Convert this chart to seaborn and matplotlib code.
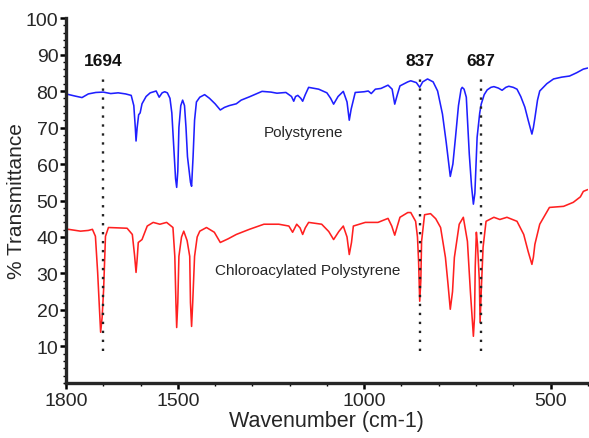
import matplotlib
matplotlib.use("Agg")
import matplotlib.pyplot as plt
from matplotlib.ticker import MultipleLocator
import pandas as pd
import seaborn as sns

# Polystyrene spectrum (wavenumber, % transmittance)
ps_wn = [1800, 1775, 1757, 1740, 1720, 1700, 1680, 1660, 1640, 1625, 1618, 1614,
         1612, 1609, 1605, 1601, 1596, 1585, 1574, 1558, 1550, 1542, 1535, 1528,
         1521, 1516, 1511, 1506, 1503, 1500, 1497, 1492, 1487, 1482, 1478, 1474,
         1466, 1463, 1459, 1455, 1450, 1441, 1428, 1415, 1400, 1386, 1375, 1362,
         1343, 1330, 1308, 1290, 1274, 1250, 1234, 1210, 1195, 1189, 1184, 1178,
         1170, 1165, 1158, 1149, 1122, 1100, 1090, 1082, 1070, 1056, 1046, 1040,
         1035, 1024, 1000, 989, 981, 970, 955, 936, 925, 918, 911, 904, 883, 875,
         860, 851, 843, 830, 815, 803, 790, 780, 769, 762, 755, 747, 740, 737,
         732, 726, 718, 712, 707, 703, 697, 690, 686, 678, 670, 660, 652, 640,
         630, 620, 612, 600, 590, 580, 569, 560, 550, 546, 542, 535, 529, 510,
         492, 470, 449, 430, 412, 400]
ps_t = [79.2, 78.6, 78.2, 79.2, 79.6, 79.7, 79.3, 79.5, 79.2, 78.8, 76.0, 70.0,
        66.3, 70.0, 73.5, 74.0, 76.5, 78.5, 79.5, 80.0, 78.3, 79.5, 79.8, 79.5,
        78.0, 74.0, 65.0, 56.0, 53.6, 58.0, 70.0, 76.0, 77.5, 76.0, 70.0, 62.0,
        55.0, 53.9, 62.0, 72.0, 77.0, 78.3, 79.0, 78.0, 76.5, 74.8, 75.5, 76.0,
        76.5, 77.5, 78.4, 79.2, 79.9, 79.7, 79.4, 79.6, 78.5, 77.2, 78.5, 78.8,
        78.0, 77.2, 79.0, 81.0, 80.5, 79.5, 78.0, 76.4, 78.5, 79.9, 77.0, 72.0,
        75.0, 79.6, 79.8, 80.0, 79.3, 80.5, 80.7, 81.6, 80.5, 76.4, 79.0, 81.4,
        82.5, 82.8, 82.3, 81.0, 82.5, 83.3, 82.5, 80.0, 73.7, 66.0, 56.6, 60.0,
        67.3, 76.0, 80.5, 81.0, 80.5, 78.3, 62.7, 54.0, 49.0, 52.0, 67.3, 74.0,
        76.4, 79.0, 80.3, 81.0, 81.2, 80.8, 80.2, 81.0, 81.3, 81.0, 80.5, 78.5,
        75.6, 72.0, 68.2, 70.0, 72.6, 77.5, 80.0, 82.0, 83.3, 83.8, 84.1, 85.0,
        86.0, 86.3]

# Chloroacylated polystyrene spectrum
cps_wn = [1800, 1793, 1761, 1740, 1729, 1721, 1715, 1710, 1707, 1703, 1699, 1694,
          1686, 1660, 1636, 1622, 1616, 1612, 1609, 1606, 1596, 1582, 1566, 1548,
          1530, 1513, 1508, 1505, 1503, 1500, 1497, 1490, 1484, 1475, 1468, 1466,
          1463, 1460, 1455, 1448, 1441, 1423, 1402, 1386, 1365, 1343, 1308, 1269,
          1229, 1202, 1192, 1181, 1172, 1165, 1158, 1149, 1114, 1095, 1082, 1068,
          1056, 1046, 1040, 1034, 1029, 997, 963, 936, 926, 918, 911, 904, 883,
          875, 862, 857, 854, 851, 848, 846, 838, 822, 808, 795, 782, 775, 769,
          763, 758, 745, 734, 723, 715, 707, 704, 702, 699, 696, 691, 689, 686,
          681, 673, 652, 636, 617, 590, 572, 560, 550, 546, 542, 529, 503, 465,
          439, 420, 412, 400]
cps_t = [42.0, 42.1, 41.6, 41.8, 42.1, 40.2, 30.3, 20.0, 13.9, 18.0, 25.6, 40.2,
         42.6, 42.5, 42.4, 40.7, 35.0, 30.3, 34.0, 38.5, 39.3, 43.0, 44.0, 43.5,
         44.0, 42.6, 34.7, 22.0, 15.2, 22.0, 34.7, 40.0, 41.6, 39.0, 34.7, 22.0,
         15.5, 22.0, 34.7, 40.0, 41.6, 42.6, 41.3, 38.5, 39.5, 40.7, 42.1, 43.5,
         43.5, 43.0, 41.3, 43.5, 42.5, 40.7, 42.5, 44.0, 43.5, 41.5, 39.3, 41.5,
         43.0, 40.0, 35.2, 38.5, 43.0, 44.0, 44.0, 45.1, 43.0, 40.5, 43.0, 45.4,
         46.7, 46.7, 44.3, 40.0, 33.3, 22.4, 28.0, 38.8, 46.1, 46.4, 45.0, 42.6,
         34.4, 27.0, 20.2, 25.0, 34.4, 43.5, 45.4, 38.8, 25.0, 12.8, 18.0, 32.0,
         41.3, 38.0, 28.0, 16.6, 25.0, 37.2, 44.3, 45.4, 44.8, 45.4, 44.3, 40.7,
         36.0, 32.5, 34.5, 38.0, 43.5, 48.1, 48.4, 49.5, 51.0, 52.5, 53.0]

# marked bands: where the dotted lines sit and what they are labelled
peak_pos = [1700, 851, 686]
peak_labels = ["1694", "837", "687"]

df = pd.concat([
    pd.DataFrame({"wn": ps_wn, "T": ps_t, "sample": "Polystyrene"}),
    pd.DataFrame({"wn": cps_wn, "T": cps_t, "sample": "Chloroacylated Polystyrene"}),
])

sns.set_style("ticks")
plt.rcParams["font.family"] = ["Liberation Sans", "DejaVu Sans"]

fig = plt.figure(figsize=(5.89, 4.39), dpi=100)
ax = fig.add_axes([0.112, 0.1253, 0.886, 0.8314])

sns.lineplot(data=df, x="wn", y="T", hue="sample", estimator=None, sort=False,
             palette={"Polystyrene": "#1f1fff",
                      "Chloroacylated Polystyrene": "#ff2020"},
             linewidth=1.15, legend=False, ax=ax)

for pos, lab in zip(peak_pos, peak_labels):
    ax.plot([pos, pos], [8.8, 85], color="#222222", linestyle=(0, (1, 2.8)),
            linewidth=1.7)
    ax.text(pos, 86.3, lab, ha="center", va="bottom", fontsize=12.5,
            fontweight="bold", color="#111111")

ax.text(1162, 68.7, "Polystyrene", ha="center", va="center", fontsize=11)
ax.text(1151, 30.9, "Chloroacylated Polystyrene", ha="center", va="center",
        fontsize=11)

ax.set_xlim(1800, 400)
ax.set_ylim(0, 100)
ax.set_xticks([1800, 1500, 1000, 500])
ax.xaxis.set_minor_locator(MultipleLocator(100))
ax.set_yticks(range(10, 101, 10))
ax.yaxis.set_minor_locator(MultipleLocator(2))

ax.set_xlabel("Wavenumber (cm-1)", fontsize=15.5, labelpad=1)
ax.set_ylabel("% Transmittance", fontsize=15, labelpad=0)

sns.despine(ax=ax)
for side in ["left", "bottom"]:
    ax.spines[side].set_linewidth(2.4)
ax.tick_params(axis="both", which="major", labelsize=14, width=1.8, length=4,
               pad=1.5, color="black")
ax.tick_params(axis="both", which="minor", width=1.0, length=2.5,
               color="black")
ax.tick_params(axis="x", which="major", pad=2.5)

fig.savefig("out.png", dpi=100)
